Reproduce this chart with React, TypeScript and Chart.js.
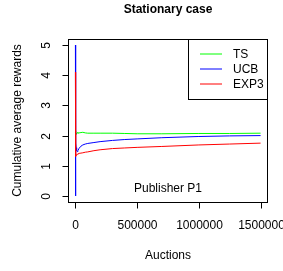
import React, { useEffect, useRef } from "react";
import { Chart, registerables } from "chart.js";

Chart.register(...registerables);

const auctions = [0, 1000, 3000, 6000, 10000, 15000, 20000, 30000, 45000, 60000, 80000, 100000, 150000, 200000, 300000, 400000, 500000, 700000, 1000000, 1250000, 1500000];
const tsRewards = [2.1, 2.16, 2.02, 2.08, 2.07, 2.1, 2.08, 2.09, 2.1, 2.11, 2.09, 2.08, 2.08, 2.08, 2.08, 2.07, 2.06, 2.06, 2.07, 2.07, 2.08];
const ucbRewards = [5, 0, 1.75, 1.6, 1.5, 1.47, 1.5, 1.58, 1.65, 1.69, 1.72, 1.74, 1.77, 1.8, 1.84, 1.87, 1.89, 1.93, 1.97, 1.99, 2.0];
const exp3Rewards = [4.1, 1.3, 1.33, 1.35, 1.37, 1.38, 1.39, 1.41, 1.42, 1.43, 1.45, 1.46, 1.5, 1.53, 1.57, 1.59, 1.61, 1.64, 1.69, 1.72, 1.75];

const seriesNames = ["TS", "UCB", "EXP3"];
const seriesColors = ["#00ff00", "#0000ff", "#ff0000"];
const xTicks = [0, 500000, 1000000, 1500000];
const yTicks = [0, 1, 2, 3, 4, 5];

const titleText = "Stationary case";
const xTitle = "Auctions";
const yTitle = "Cumulative average rewards";
const noteText = "Publisher P1";

const FONT = '"Liberation Sans", Arial, Helvetica, sans-serif';

const toPoints = (ys: number[]) => ys.map((y, i) => ({ x: auctions[i], y }));

const rPlugin = {
  id: "rStyle",
  afterDraw(chart: any) {
    const ctx = chart.ctx as CanvasRenderingContext2D;
    const a = chart.chartArea;
    const xs = chart.scales.x;
    const ys = chart.scales.y;
    ctx.save();
    ctx.strokeStyle = "#000";
    ctx.lineWidth = 1;
    // box
    ctx.strokeRect(Math.round(a.left) + 0.5, Math.round(a.top) + 0.5, Math.round(a.right - a.left) - 1, Math.round(a.bottom - a.top));
    ctx.fillStyle = "#000";
    ctx.font = "12px " + FONT;
    // x ticks
    ctx.textAlign = "center";
    ctx.textBaseline = "middle";
    for (const v of xTicks) {
      const px = Math.round(xs.getPixelForValue(v)) + 0.5;
      ctx.beginPath();
      ctx.moveTo(px, Math.round(a.bottom) + 0.5);
      ctx.lineTo(px, Math.round(a.bottom) + 6.5);
      ctx.stroke();
      ctx.fillText(String(v), px, 226);
    }
    // y ticks
    for (const v of yTicks) {
      const py = Math.round(ys.getPixelForValue(v)) + 0.5;
      ctx.beginPath();
      ctx.moveTo(Math.round(a.left) + 0.5, py);
      ctx.lineTo(Math.round(a.left) - 5.5, py);
      ctx.stroke();
      ctx.save();
      ctx.translate(47, py);
      ctx.rotate(-Math.PI / 2);
      ctx.fillText(String(v), 0, 0);
      ctx.restore();
    }
    // titles
    const cx = (a.left + a.right) / 2;
    ctx.font = "bold 12px " + FONT;
    ctx.fillText(titleText, cx, 10);
    ctx.font = "12px " + FONT;
    ctx.fillText(xTitle, cx, 256);
    ctx.save();
    ctx.translate(18, (a.top + a.bottom) / 2);
    ctx.rotate(-Math.PI / 2);
    ctx.fillText(yTitle, 0, 0);
    ctx.restore();
    ctx.fillText(noteText, cx, 189);
    // legend
    const lx = 188.5;
    const ly = Math.round(a.top) + 0.5;
    const lw = Math.round(a.right) - 1 - lx + 0.5;
    ctx.fillStyle = "#fff";
    ctx.fillRect(lx, ly, lw, 60);
    ctx.strokeStyle = "#000";
    ctx.strokeRect(lx, ly, lw, 60);
    const rows = [54, 69, 84];
    seriesNames.forEach((name, i) => {
      ctx.strokeStyle = seriesColors[i];
      ctx.beginPath();
      ctx.moveTo(200, rows[i]);
      ctx.lineTo(222, rows[i]);
      ctx.stroke();
      ctx.fillStyle = "#000";
      ctx.textAlign = "left";
      ctx.fillText(name, 233, rows[i] + 0.5);
    });
    ctx.restore();
  },
};

export default function App() {
  const ref = useRef<HTMLCanvasElement>(null);
  useEffect(() => {
    document.body.style.margin = "0";
    const canvas = ref.current!;
    const seriesData = [tsRewards, ucbRewards, exp3Rewards];
    const chart = new Chart(canvas, {
      type: "line",
      data: {
        datasets: seriesNames.map((name, i) => ({
          label: name,
          data: toPoints(seriesData[i]),
          borderColor: seriesColors[i],
          borderWidth: 1,
          pointRadius: 0,
          fill: false,
          tension: 0,
          order: 2 - i,
        })),
      },
      options: {
        responsive: false,
        animation: false,
        devicePixelRatio: 1,
        parsing: true,
        layout: { padding: { left: 68, top: 39, right: 15, bottom: 69 } },
        plugins: { legend: { display: false }, title: { display: false }, tooltip: { enabled: false } },
        scales: {
          x: { type: "linear", min: -60000, max: 1560000, display: false },
          y: { type: "linear", min: -0.2, max: 5.2, display: false },
        },
      },
      plugins: [rPlugin],
    });
    return () => chart.destroy();
  }, []);
  return (
    <div style={{ position: "absolute", left: 0, top: 0, width: 283, height: 271, background: "#fff" }}>
      <canvas ref={ref} width={283} height={271} style={{ display: "block" }} />
    </div>
  );
}
